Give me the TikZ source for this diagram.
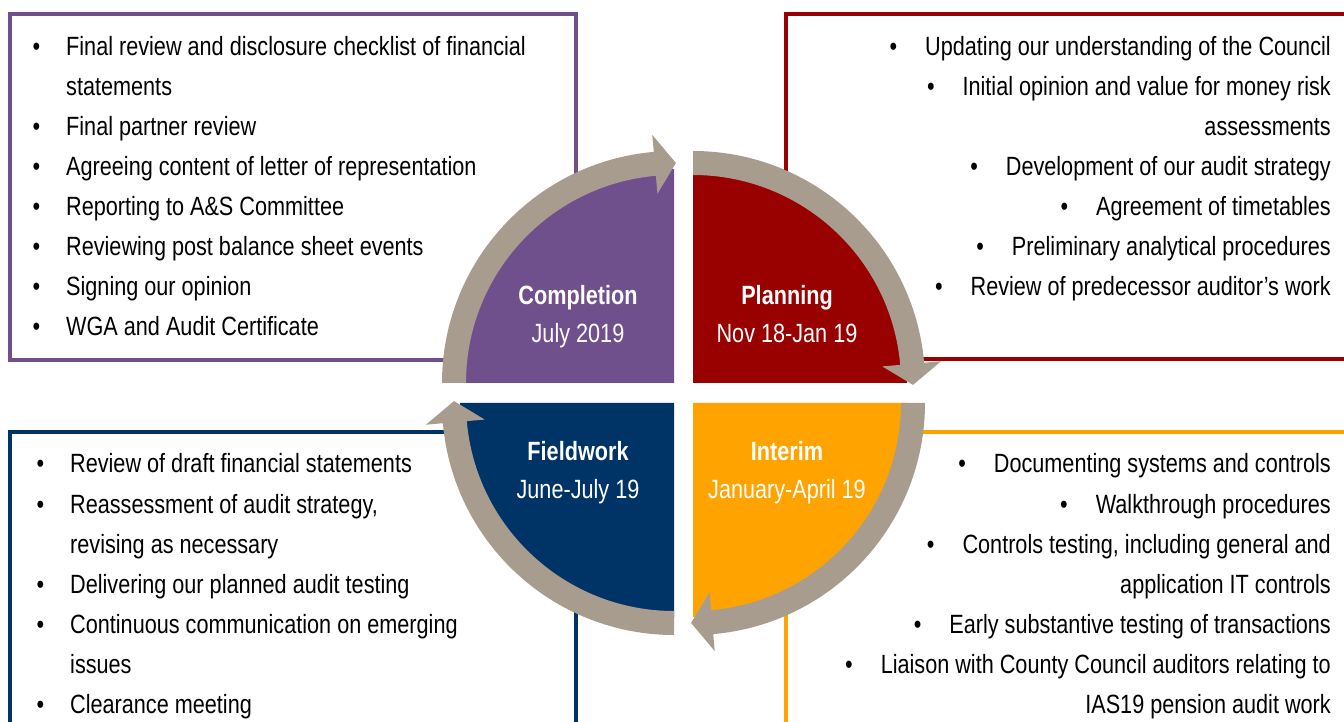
\documentclass[tikz,border=0pt]{standalone}
\usepackage{fontspec}
\setmainfont{Liberation Sans}[FakeStretch=0.82]
\usetikzlibrary{calc}

\definecolor{cPurple}{RGB}{111,80,141}
\definecolor{cRed}{RGB}{153,0,0}
\definecolor{cNavy}{RGB}{0,51,102}
\definecolor{cOrange}{RGB}{255,163,0}
\definecolor{cRing}{RGB}{168,156,143}

% bullet helpers: left lists hang the bullet before the text, right lists lead with it
\newcommand\lbul{\llap{\textbullet\hspace{26pt}}}
\newcommand\rbul{\textbullet\hspace{28pt}}

\begin{document}
\begin{tikzpicture}[x=1pt,y=1pt,
  font=\fontsize{26.4pt}{40pt}\selectfont,
  panel/.style={line width=3.5pt},
  ltxt/.style={inner sep=0pt, anchor=base west, text=black},
  rtxt/.style={inner sep=0pt, anchor=base east, text=black},
  phase/.style={inner sep=0pt, anchor=base, text=white},
  ringfill/.style={fill=cRing}]
\useasboundingbox (0,0) rectangle (1344,721);

% outlined panels behind the cycle
\draw[panel, cPurple] (10,707) rectangle (576,361);
\draw[panel, cRed] (786,707) rectangle (1370,362);
\draw[panel, cNavy] (10,289) rectangle (576,-30);
\draw[panel, cOrange] (786,289) rectangle (1370,-30);

% quadrant corners
\coordinate (P) at (674,338);
\coordinate (R) at (693,338);
\coordinate (B) at (674,318);
\coordinate (O) at (693,318);

% quarter discs
\fill[cPurple] (P) -- ++(180:214) arc[start angle=180, end angle=90, radius=214] -- cycle;
\fill[cRed] (R) -- ++(90:214) arc[start angle=90, end angle=0, radius=214] -- cycle;
\fill[cOrange] (O) -- ++(0:214) arc[start angle=0, end angle=-90, radius=214] -- cycle;
\fill[cNavy] (B) -- ++(270:214) arc[start angle=270, end angle=180, radius=214] -- cycle;

% clockwise ring arrows, one per quadrant
\foreach \c/\a in {P/180, R/90, O/0, B/270} {
  \begin{scope}[shift={(\c)}]
    \pgfmathsetmacro\b{\a-85}
    \pgfmathsetmacro\t{\a-90.5}
    \fill[ringfill] (\a:232) arc[start angle=\a, end angle=\b, radius=232]
      -- (\b:249) -- (\t:220) -- (\b:190) -- (\b:208)
      arc[start angle=\b, end angle=\a, radius=208] -- cycle;
  \end{scope}
}

% phase labels
\node[phase] (compT) at (578,416) {\bfseries Completion};
\node[phase] (compD) at (578,378) {July 2019};
\node[phase] (planT) at (787,416) {\bfseries Planning};
\node[phase] (planD) at (787,378) {Nov 18-Jan 19};
\node[phase] (fieldT) at (578,261) {\bfseries Fieldwork};
\node[phase] (fieldD) at (578,223) {June-July 19};
\node[phase] (intT) at (787,261) {\bfseries Interim};
\node[phase] (intD) at (787,223) {January-April 19};

% completion tasks
\node[ltxt] (c1) at (66,665) {\lbul Final review and disclosure checklist of financial};
\node[ltxt] (c1b) at (66,625) {statements};
\node[ltxt] (c2) at (66,585) {\lbul Final partner review};
\node[ltxt] (c3) at (66,545) {\lbul Agreeing content of letter of representation};
\node[ltxt] (c4) at (66,505) {\lbul Reporting to A\&S Committee};
\node[ltxt] (c5) at (66,465) {\lbul Reviewing post balance sheet events};
\node[ltxt] (c6) at (66,425) {\lbul Signing our opinion};
\node[ltxt] (c7) at (66,385) {\lbul WGA and Audit Certificate};

% planning tasks
\node[rtxt] (p1) at (1331,665) {\rbul Updating our understanding of the Council};
\node[rtxt] (p2) at (1331,625) {\rbul Initial opinion and value for money risk};
\node[rtxt] (p2b) at (1331,585) {assessments};
\node[rtxt] (p3) at (1331,545) {\rbul Development of our audit strategy};
\node[rtxt] (p4) at (1331,505) {\rbul Agreement of timetables};
\node[rtxt] (p5) at (1331,465) {\rbul Preliminary analytical procedures};
\node[rtxt] (p6) at (1331,425) {\rbul Review of predecessor auditor’s work};

% fieldwork tasks
\node[ltxt] (f1) at (70,248) {\lbul Review of draft financial statements};
\node[ltxt] (f2) at (70,208) {\lbul Reassessment of audit strategy,};
\node[ltxt] (f2b) at (70,168) {revising as necessary};
\node[ltxt] (f3) at (70,128) {\lbul Delivering our planned audit testing};
\node[ltxt] (f4) at (70,88) {\lbul Continuous communication on emerging};
\node[ltxt] (f4b) at (70,48) {issues};
\node[ltxt] (f5) at (70,8) {\lbul Clearance meeting};

% interim tasks
\node[rtxt] (i1) at (1331,248) {\rbul Documenting systems and controls};
\node[rtxt] (i2) at (1331,208) {\rbul Walkthrough procedures};
\node[rtxt] (i3) at (1331,168) {\rbul Controls testing, including general and};
\node[rtxt] (i3b) at (1331,128) {application IT controls};
\node[rtxt] (i4) at (1331,88) {\rbul Early substantive testing of transactions};
\node[rtxt] (i5) at (1331,48) {\rbul Liaison with County Council auditors relating to};
\node[rtxt] (i5b) at (1331,8) {IAS19 pension audit work};
\end{tikzpicture}
\end{document}
